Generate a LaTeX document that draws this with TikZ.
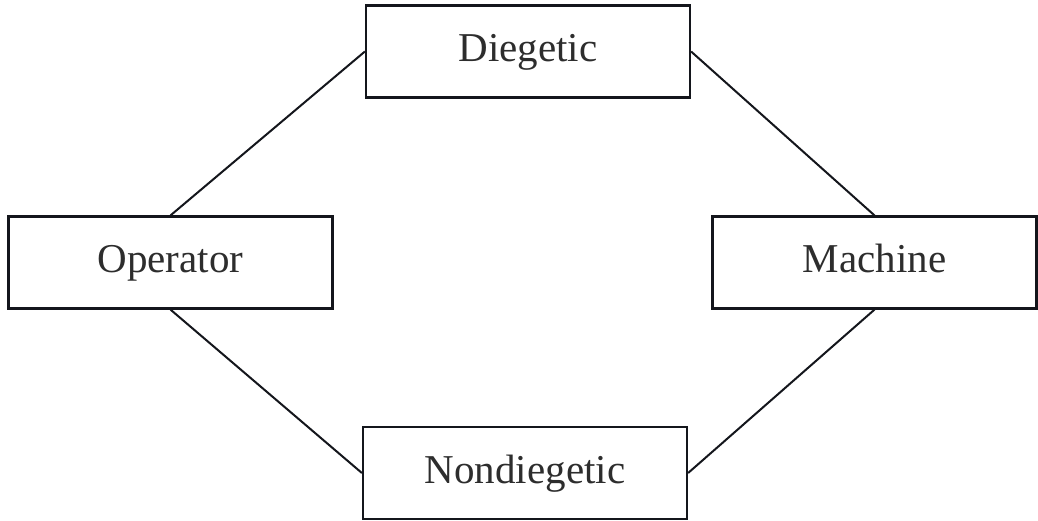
\documentclass[tikz,border=0pt]{standalone}
\usepackage{fontspec}
\setmainfont{Liberation Serif}
\usepackage{xcolor}
\usetikzlibrary{positioning}
\definecolor{lineBlack}{RGB}{20, 22, 28}
\definecolor{textGray}{RGB}{45, 45, 45}
\tikzset{
  term/.style={draw=lineBlack, line width=1.1pt, fill=white, minimum width=162pt,
    minimum height=46pt, inner sep=0pt, text height=10pt, text depth=0pt,
    text=textGray, font=\fontsize{20.5}{24}\selectfont},
  link/.style={draw=lineBlack, line width=1pt}
}
\begin{document}
\begin{tikzpicture}[x=0.5pt, y=-0.5pt]
                \useasboundingbox (0,0) rectangle (1038,520);
                % Boxes
                \node[term] (diegetic) at (528,51.5) {Diegetic};
                \node[term] (operator) at (170.5,262.5) {Operator};
                \node[term] (machine) at (874.5,262.5) {Machine};
                \node[term] (nondiegetic) at (525,473) {Nondiegetic};

                % Links
                \draw[link] (diegetic.west) -- (operator.north);
                \draw[link] (diegetic.east) -- (machine.north);
                \draw[link] (operator.south) -- (nondiegetic.west);
                \draw[link] (machine.south) -- (nondiegetic.east);
            \end{tikzpicture}
\end{document}
